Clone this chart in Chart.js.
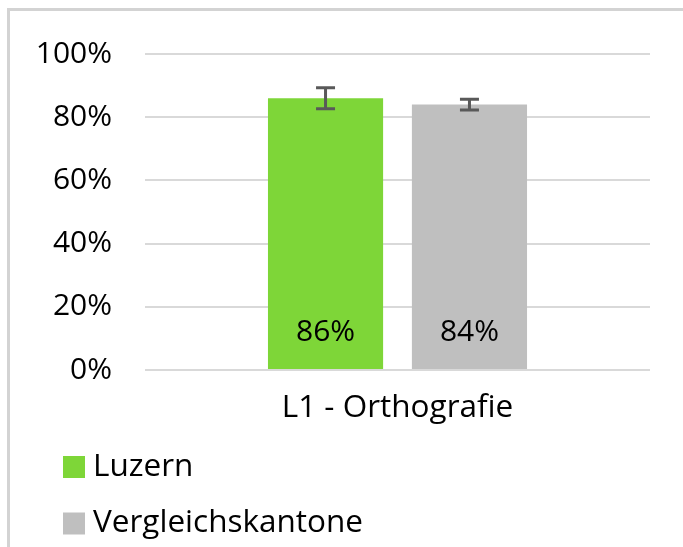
<!DOCTYPE html>
<html>
<head>
<meta charset="utf-8">
<script src="https://cdn.jsdelivr.net/npm/chart.js@4"></script>
<style>
  html, body { margin: 0; padding: 0; background: #fff; overflow: hidden; }
  #wrap { position: relative; width: 683px; height: 547px; }
  #frame { position: absolute; left: 7px; top: 8px; width: 720px; height: 600px; border: 3px solid #D3D3D3; box-sizing: border-box; }
  canvas { position: absolute; left: 0; top: 0; }
</style>
</head>
<body>
<div id="wrap">
  <div id="frame"></div>
  <canvas id="c" width="683" height="547"></canvas>
</div>
<script>
const categories = ["L1 - Orthografie"];
const seriesNames = ["Luzern", "Vergleichskantone"];
const luzernValues = [86];
const vergleichValues = [84];
const luzernErrors = [3.3];
const vergleichErrors = [1.7];
const yTicks = [0, 20, 40, 60, 80, 100];

const FONT = "'Open Sans', sans-serif";
const colors = ["#7ED638", "#BFBFBF"];

const errorBars = {
  id: 'errorBars',
  afterDatasetsDraw(chart) {
    const ctx = chart.ctx;
    const y = chart.scales.y;
    chart.data.datasets.forEach((ds, di) => {
      const meta = chart.getDatasetMeta(di);
      meta.data.forEach((bar, i) => {
        const v = ds.data[i], e = ds.errors[i];
        const top = y.getPixelForValue(v + e), bot = y.getPixelForValue(v - e);
        ctx.save();
        ctx.strokeStyle = '#595959';
        ctx.lineWidth = 3;
        ctx.beginPath();
        ctx.moveTo(bar.x, top); ctx.lineTo(bar.x, bot);
        ctx.moveTo(bar.x - 9.5, top); ctx.lineTo(bar.x + 9.5, top);
        ctx.moveTo(bar.x - 9.5, bot); ctx.lineTo(bar.x + 9.5, bot);
        ctx.stroke();
        ctx.restore();
        // data label
        ctx.save();
        ctx.fillStyle = '#000';
        ctx.font = '30px ' + FONT;
        ctx.textAlign = 'center';
        ctx.textBaseline = 'middle';
        ctx.fillText(v + '%', bar.x, y.getPixelForValue(0) - 38);
        ctx.restore();
      });
    });
  }
};

const vLegend = {
  id: 'vLegend',
  afterDraw(chart) {
    const ctx = chart.ctx;
    ctx.save();
    chart.data.datasets.forEach((ds, i) => {
      const cy = 467 + i * 56.5;
      ctx.fillStyle = ds.backgroundColor;
      ctx.fillRect(63, cy - 11, 22, 22);
      ctx.fillStyle = '#000';
      ctx.font = '31.5px ' + FONT;
      ctx.textAlign = 'left';
      ctx.textBaseline = 'middle';
      ctx.fillText(ds.label, 93, cy);
    });
    ctx.restore();
  }
};

new Chart(document.getElementById('c'), {
  type: 'bar',
  data: {
    labels: categories,
    datasets: [
      { label: seriesNames[0], data: luzernValues, errors: luzernErrors, backgroundColor: colors[0] },
      { label: seriesNames[1], data: vergleichValues, errors: vergleichErrors, backgroundColor: colors[1] }
    ]
  },
  options: {
    responsive: false,
    animation: false,
    devicePixelRatio: 1,
    layout: { padding: { left: 0, right: 33, top: 54, bottom: 107 } },
    datasets: { bar: { categoryPercentage: 0.57, barPercentage: 0.8 } },
    plugins: { legend: { display: false }, tooltip: { enabled: false } },
    scales: {
      x: {
        grid: { display: false },
        border: { display: false },
        ticks: { color: '#000', font: { family: FONT, size: 31.5 }, padding: 11 },
        afterFit(s) { s.height = 70; }
      },
      y: {
        min: 0, max: 100,
        afterBuildTicks(s) { s.ticks = yTicks.map(v => ({ value: v })); },
        grid: { color: '#D9D9D9', lineWidth: 2, drawTicks: false },
        border: { display: false },
        ticks: { color: '#000', font: { family: FONT, size: 30 }, padding: 33, callback: v => v + '%' },
        afterFit(s) { s.width = 145; }
      }
    }
  },
  plugins: [errorBars, vLegend]
});
</script>
</body>
</html>
